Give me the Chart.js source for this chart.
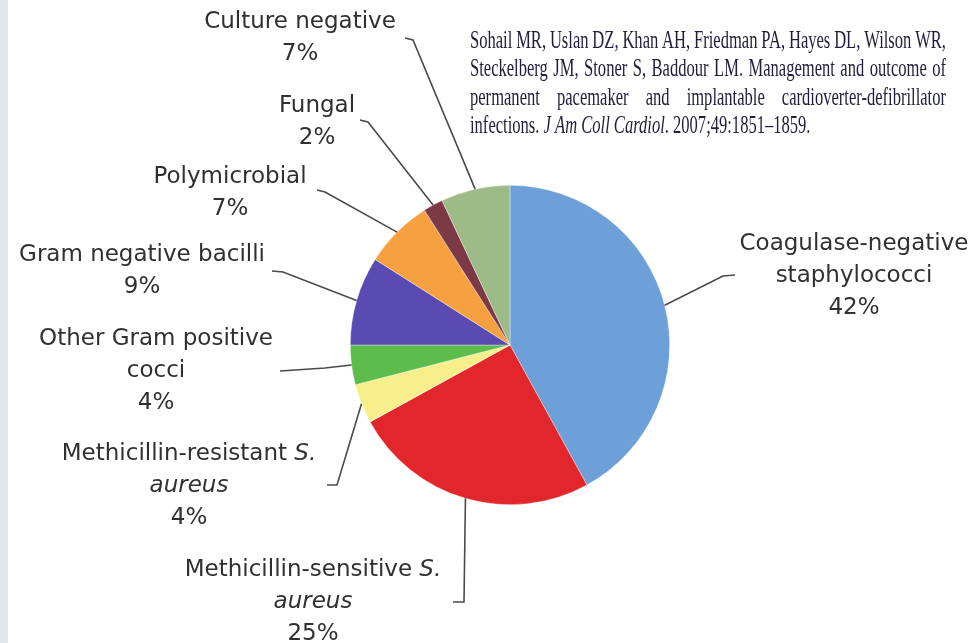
<!DOCTYPE html>
<html>
<head>
<meta charset="utf-8">
<title>CIED infection pathogens</title>
<script src="https://cdn.jsdelivr.net/npm/chart.js@4.4.1/dist/chart.umd.min.js"></script>
<style>
  html, body { margin: 0; padding: 0; background: #fff; }
  #wrap { position: relative; width: 977px; height: 643px; overflow: hidden; }
  #strip { position: absolute; left: 0; top: 0; width: 8px; height: 643px; background: #dce8ee; }
  canvas { position: absolute; left: 0; top: 0; }
</style>
</head>
<body>
<div id="wrap">
  <canvas id="pathogenChart" width="977" height="643"></canvas>
  <div id="strip"></div>
</div>
<script>
// Pathogens (clockwise from 12 o'clock)
const categories = [
  "Coagulase-negative staphylococci",
  "Methicillin-sensitive S. aureus",
  "Methicillin-resistant S. aureus",
  "Other Gram positive cocci",
  "Gram negative bacilli",
  "Polymicrobial",
  "Fungal",
  "Culture negative"
];
const shares = [42, 25, 4, 4, 9, 7, 2, 7];
const sliceColors = ["#6d9fd8", "#e1272c", "#f7ef8c", "#5cbd4c", "#5a4bb3", "#f6a03f", "#7c3a46", "#9dbb86"];

// label text, *...* = italic
const labelLines = [
  ["Coagulase-negative", "staphylococci"],
  ["Methicillin-sensitive *S.*", "*aureus*"],
  ["Methicillin-resistant *S.*", "*aureus*"],
  ["Other Gram positive", "cocci"],
  ["Gram negative bacilli"],
  ["Polymicrobial"],
  ["Fungal"],
  ["Culture negative"]
];

// where each label sits (center x, first line y) and the elbow of its leader
const labelLayout = [
  { x: 854, y: 244, leader: [[735, 275], [723, 276]] },
  { x: 313, y: 570, leader: [[453, 602], [464, 602]] },
  { x: 189, y: 454, leader: [[327, 485], [337, 485]] },
  { x: 156, y: 339, leader: [[280, 371], [325, 368]] },
  { x: 142, y: 255, leader: [[272, 271], [283, 272]] },
  { x: 230, y: 177, leader: [[317, 190], [325, 192]] },
  { x: 317, y: 106, leader: [[360, 120], [368, 122]] },
  { x: 300, y: 22, leader: [[405, 38], [413, 40]] }
];

const citation = [
  ["Sohail MR, Uslan DZ, Khan AH, Friedman PA, Hayes DL, Wilson WR,"],
  ["Steckelberg JM, Stoner S, Baddour LM. Management and outcome of"],
  ["permanent pacemaker and implantable cardioverter-defibrillator"],
  ["infections. ", "*J Am Coll Cardiol*", ". 2007;49:1851\u20131859."]
];

const LINE_H = 32;
const LABEL_FONT = 23;

function segments(line) {
  return line.split("*").map((t, i) => ({ text: t, italic: i % 2 === 1 })).filter(s => s.text);
}

function drawCentered(ctx, line, cx, cy) {
  const segs = segments(line);
  let total = 0;
  segs.forEach(s => {
    ctx.font = (s.italic ? "oblique " : "") + LABEL_FONT + 'px "DejaVu Sans"';
    s.w = ctx.measureText(s.text).width;
    total += s.w;
  });
  let x = cx - total / 2;
  segs.forEach(s => {
    ctx.font = (s.italic ? "oblique " : "") + LABEL_FONT + 'px "DejaVu Sans"';
    ctx.fillText(s.text, x, cy);
    x += s.w;
  });
}

const outerLabels = {
  id: "outerLabels",
  afterDraw(chart) {
    const ctx = chart.ctx;
    const meta = chart.getDatasetMeta(0);
    ctx.save();
    ctx.textAlign = "left";
    ctx.textBaseline = "middle";
    meta.data.forEach((arc, i) => {
      const p = arc.getProps(["x", "y", "startAngle", "endAngle", "outerRadius"], true);
      const mid = (p.startAngle + p.endAngle) / 2;
      const ex = p.x + Math.cos(mid) * p.outerRadius;
      const ey = p.y + Math.sin(mid) * p.outerRadius;
      const lay = labelLayout[i];

      ctx.strokeStyle = "#4a4a4a";
      ctx.lineWidth = 1.6;
      ctx.beginPath();
      ctx.moveTo(lay.leader[0][0], lay.leader[0][1]);
      lay.leader.slice(1).forEach(pt => ctx.lineTo(pt[0], pt[1]));
      ctx.lineTo(ex, ey);
      ctx.stroke();

      ctx.fillStyle = "#303030";
      const lines = labelLines[i].concat([shares[i] + "%"]);
      lines.forEach((ln, k) => drawCentered(ctx, ln, lay.x, lay.y + k * LINE_H));
    });
    ctx.restore();
  }
};

// justified reference block, condensed serif
const citationBlock = {
  id: "citationBlock",
  afterDraw(chart) {
    const ctx = chart.ctx;
    const left = 470, width = 476, top = 48, lh = 28.3, size = 25, sx = 0.662;
    ctx.save();
    ctx.fillStyle = "#1e1e3c";
    ctx.textBaseline = "alphabetic";
    ctx.textAlign = "left";
    ctx.translate(left, 0);
    ctx.scale(sx, 1);
    citation.forEach((parts, li) => {
      const y = top + li * lh;
      const fontFor = it => (it ? "italic " : "") + size + 'px "Liberation Serif"';
      if (li < citation.length - 1) {
        const words = parts[0].split(" ");
        ctx.font = fontFor(false);
        const wsum = words.reduce((a, w) => a + ctx.measureText(w).width, 0);
        const gap = (width / sx - wsum) / (words.length - 1);
        let x = 0;
        words.forEach(w => {
          ctx.fillText(w, x, y);
          x += ctx.measureText(w).width + gap;
        });
      } else {
        let x = 0;
        parts.forEach(part => {
          const italic = part.startsWith("*");
          const txt = part.replace(/\*/g, "");
          ctx.font = fontFor(italic);
          ctx.fillText(txt, x, y);
          x += ctx.measureText(txt).width;
        });
      }
    });
    ctx.restore();
  }
};

new Chart(document.getElementById("pathogenChart"), {
  type: "pie",
  data: {
    labels: categories,
    datasets: [{
      data: shares,
      backgroundColor: sliceColors,
      borderWidth: 0.6,
      borderColor: "rgba(255,255,255,0.6)"
    }]
  },
  options: {
    responsive: false,
    animation: false,
    layout: { padding: { left: 350, right: 307, top: 185, bottom: 138 } },
    plugins: {
      legend: { display: false },
      tooltip: { enabled: false }
    }
  },
  plugins: [outerLabels, citationBlock]
});
</script>
</body>
</html>
